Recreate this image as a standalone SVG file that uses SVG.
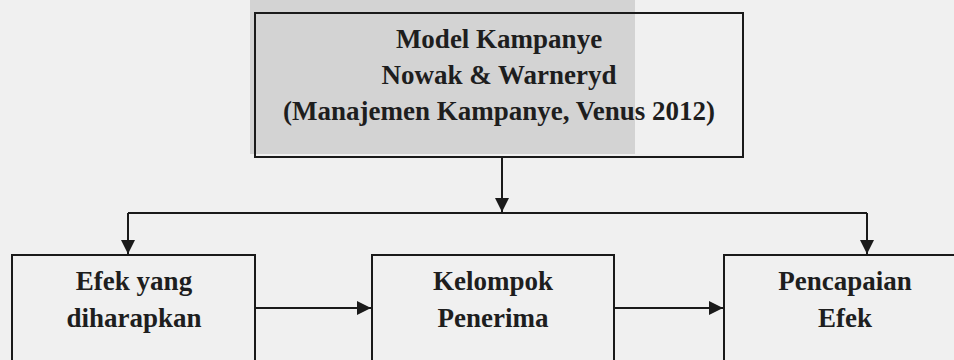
<svg xmlns="http://www.w3.org/2000/svg" width="954" height="360" viewBox="0 0 954 360">
<style>
.box{fill:none;stroke:#1a1a1a;stroke-width:2}
.lbl{font-family:"Liberation Serif","Times New Roman",serif;font-weight:bold;font-size:27px;fill:#1e1e1e;text-anchor:middle}
.con{fill:none;stroke:#1a1a1a;stroke-width:2}
</style>
<defs>
<marker id="ah" viewBox="0 0 10 10" refX="10" refY="5" markerWidth="7" markerHeight="7" markerUnits="strokeWidth" orient="auto">
<path d="M0,0 L10,5 L0,10 z" fill="#1a1a1a"/>
</marker>
</defs>
<rect x="0" y="0" width="954" height="360" fill="#f0f0f0"/>
<rect x="250" y="0" width="385" height="154" fill="#d3d3d3"/>
<g id="model">
<rect class="box" x="255" y="13" width="488" height="144"/>
<text class="lbl" x="499" y="48">Model Kampanye</text>
<text class="lbl" x="499" y="84">Nowak &amp; Warneryd</text>
<text class="lbl" x="499" y="120">(Manajemen Kampanye, Venus 2012)</text>
</g>
<g id="efek-harapan">
<rect class="box" x="12" y="255" width="243" height="120"/>
<text class="lbl" x="134" y="290">Efek yang</text>
<text class="lbl" x="134" y="327">diharapkan</text>
</g>
<g id="kelompok">
<rect class="box" x="372" y="255" width="242" height="120"/>
<text class="lbl" x="493" y="290">Kelompok</text>
<text class="lbl" x="493" y="327">Penerima</text>
</g>
<g id="pencapaian">
<rect class="box" x="724" y="255" width="250" height="120"/>
<text class="lbl" x="845" y="290">Pencapaian</text>
<text class="lbl" x="845" y="327">Efek</text>
</g>
<g id="connectors">
<line class="con" x1="502" y1="157" x2="502" y2="212" marker-end="url(#ah)"/>
<line class="con" x1="128" y1="213" x2="867" y2="213"/>
<path class="con" d="M128,213 V254" marker-end="url(#ah)"/>
<path class="con" d="M867,213 V254" marker-end="url(#ah)"/>
<line class="con" x1="255" y1="308" x2="371" y2="308" marker-end="url(#ah)"/>
<line class="con" x1="614" y1="308" x2="723" y2="308" marker-end="url(#ah)"/>
</g>
</svg>
